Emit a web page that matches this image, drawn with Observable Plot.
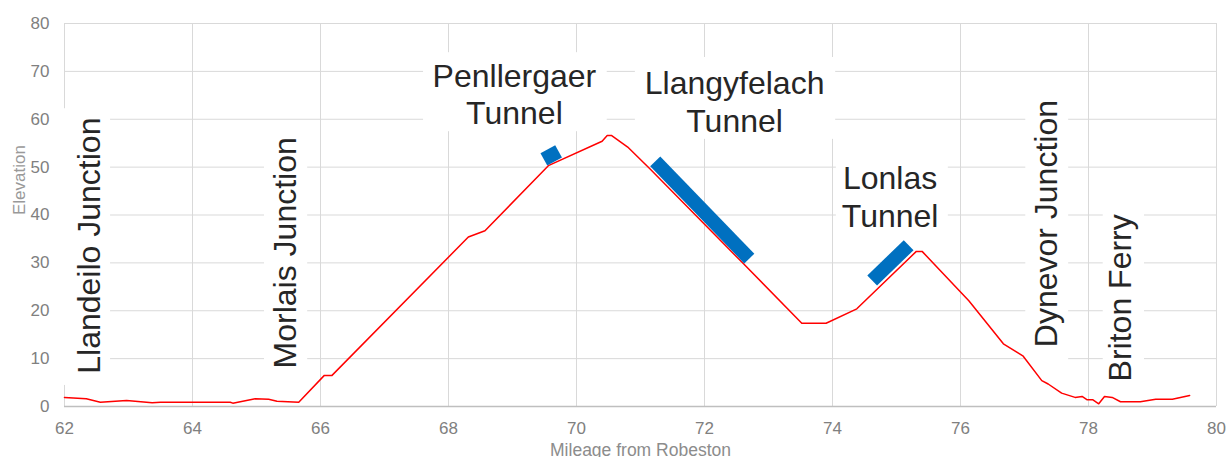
<!DOCTYPE html>
<html>
<head>
<meta charset="utf-8">
<script src="https://cdn.jsdelivr.net/npm/d3@7"></script>
<script src="https://cdn.jsdelivr.net/npm/@observablehq/plot@0.6"></script>
<style>
  html, body { margin: 0; padding: 0; background: #fff; }
  #chart svg { display: block; }
</style>
</head>
<body>
<div id="chart"></div>
<script>
// Elevation profile (mileage from Robeston, elevation)
const mileage = [62.00, 62.34, 62.56, 62.97, 63.37, 63.50, 64.59, 64.63, 64.98, 65.19, 65.32, 65.66,
  66.06, 66.18, 68.31, 68.57, 69.56, 70.40, 70.48, 70.55, 70.80, 71.15, 72.61, 73.52, 73.90,
  74.38, 75.31, 75.40, 76.13, 76.67, 76.98, 77.27, 77.37, 77.58, 77.79, 77.90, 77.98, 78.07,
  78.16, 78.25, 78.37, 78.50, 78.81, 79.05, 79.31, 79.58];
const elevation = [1.9, 1.6, 0.9, 1.25, 0.8, 0.9, 0.9, 0.7, 1.6, 1.5, 1.1, 0.9,
  6.5, 6.5, 35.4, 36.7, 50.3, 55.4, 56.6, 56.6, 54.2, 49.6, 29.8, 17.4, 17.4,
  20.4, 32.4, 32.4, 22.1, 13.1, 10.5, 5.4, 4.7, 2.8, 1.9, 2.1, 1.4, 1.4,
  0.56, 2.1, 1.9, 1.0, 1.0, 1.5, 1.5, 2.3];

// Tunnel markers (start/end mileage and elevation)
const tunnelNames = ["Penllergaer", "Llangyfelach", "Lonlas"];
const tunnelStartMile = [69.49, 71.23, 74.62];
const tunnelStartElev = [51.6, 51.2, 26.3];
const tunnelEndMile = [69.72, 72.70, 75.19];
const tunnelEndElev = [53.3, 30.9, 33.7];

// Tunnel labels (two lines, horizontal)
const tunnelLabels = ["Penllergaer\nTunnel", "Llangyfelach\nTunnel", "Lonlas\nTunnel"];
const tunnelLabelMile = [69.03, 72.47, 74.90];
const tunnelLabelElev = [65.4, 63.8, 44.0];
const tunnelBoxMile1 = [67.61, 70.92, 74.06];
const tunnelBoxMile2 = [70.48, 74.05, 75.81];
const tunnelBoxElev1 = [57.4, 55.8, 35.7];
const tunnelBoxElev2 = [73.9, 72.9, 52.8];

// Station labels (vertical)
const stationLabels = ["Llandeilo Junction", "Morlais Junction", "Dynevor Junction", "Briton Ferry"];
const stationLabelMile = [62.39, 65.45, 77.35, 78.51];
const stationLabelElev = [33.6, 32.1, 38.2, 22.7];
const stationBoxMile1 = [62.0, 65.125, 77.02, 78.23];
const stationBoxMile2 = [62.72, 65.80, 77.69, 78.875];
const stationBoxElev1 = [4.4, 6.5, 8.6, 3.3];
const stationBoxElev2 = [62.2, 57.6, 65.6, 42.0];

// Axis ticks
const xTicks = [62, 64, 66, 68, 70, 72, 74, 76, 78, 80];
const yTicks = [0, 10, 20, 30, 40, 50, 60, 70, 80];

const profile = mileage.map((m, i) => ({mile: m, elev: elevation[i]}));
const tunnels = tunnelNames.map((n, i) => ({name: n, x1: tunnelStartMile[i], y1: tunnelStartElev[i], x2: tunnelEndMile[i], y2: tunnelEndElev[i]}));
const tLabels = tunnelLabels.map((t, i) => ({text: t, x: tunnelLabelMile[i], y: tunnelLabelElev[i],
  bx1: tunnelBoxMile1[i], bx2: tunnelBoxMile2[i], by1: tunnelBoxElev1[i], by2: tunnelBoxElev2[i]}));
const sLabels = stationLabels.map((t, i) => ({text: t, x: stationLabelMile[i], y: stationLabelElev[i],
  bx1: stationBoxMile1[i], bx2: stationBoxMile2[i], by1: stationBoxElev1[i], by2: stationBoxElev2[i]}));
const boxes = [...tLabels, ...sLabels];

const FONT = "Arial, 'Liberation Sans', Helvetica, sans-serif";
const GRID = "#d9d9d9";
const TICK = "#808080";

const chart = Plot.plot({
  width: 1229,
  height: 457,
  marginLeft: 64,
  marginRight: 13,
  marginTop: 23,
  marginBottom: 51,
  style: {fontFamily: FONT, background: "#fff", overflow: "visible"},
  x: {domain: [62, 80], ticks: xTicks},
  y: {domain: [0, 80], ticks: yTicks},
  marks: [
    Plot.gridX(xTicks, {stroke: GRID, strokeOpacity: 1, strokeWidth: 1}),
    Plot.gridY(yTicks, {stroke: GRID, strokeOpacity: 1, strokeWidth: 1}),
    Plot.ruleY([0], {stroke: "#bfbfbf", strokeWidth: 1.3}),
    Plot.rect(boxes, {x1: "bx1", x2: "bx2", y1: "by1", y2: "by2", fill: "#fff"}),
    Plot.axisX(xTicks, {tickSize: 0, tickPadding: 15, fontSize: 17, color: TICK, label: null}),
    Plot.axisY(yTicks, {tickSize: 0, tickPadding: 15, fontSize: 17, color: TICK, label: null}),
    Plot.text(["Elevation"], {frameAnchor: "left", dx: -45, rotate: -90, fontSize: 17, fill: "#999999"}),
    Plot.text(["Mileage from Robeston"], {frameAnchor: "bottom", lineAnchor: "bottom", dy: 49, fontSize: 17.5, fill: "#8c8c8c"}),
    Plot.text(tLabels, {x: "x", y: "y", text: "text", fontSize: 32, lineHeight: 1.17, fill: "#262626"}),
    Plot.text(sLabels, {x: "x", y: "y", text: "text", fontSize: 32, rotate: -90, fill: "#262626"}),
    Plot.line(profile, {x: "mile", y: "elev", stroke: "#ff0000", strokeWidth: 1.5}),
    Plot.link(tunnels, {x1: "x1", y1: "y1", x2: "x2", y2: "y2", stroke: "#0070c0", strokeWidth: 14, strokeLinecap: "butt"})
  ]
});
document.getElementById("chart").append(chart);
</script>
</body>
</html>
